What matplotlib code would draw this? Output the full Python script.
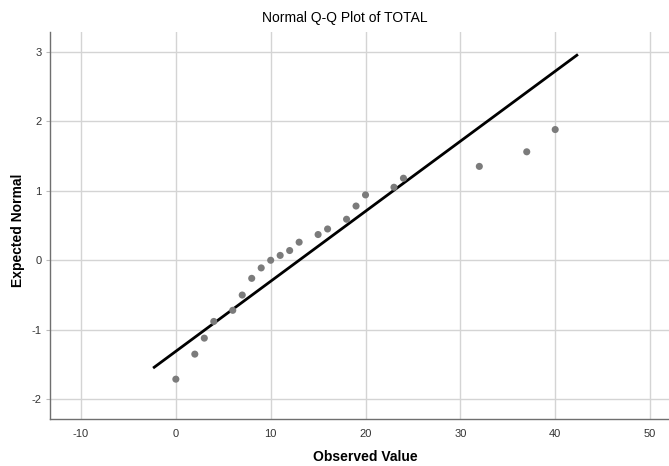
import matplotlib
matplotlib.use("Agg")
import matplotlib.pyplot as plt
from matplotlib import font_manager

observed = [0, 2, 3, 4, 6, 7, 8, 9, 10, 11, 12, 13, 15, 16, 18, 19, 20, 23, 24, 32, 37, 40]
expected = [-1.71, -1.35, -1.12, -0.88, -0.72, -0.50, -0.26, -0.11, 0.00, 0.07, 0.14, 0.26,
            0.37, 0.45, 0.59, 0.78, 0.94, 1.05, 1.18, 1.35, 1.56, 1.88]
line_x = [-2.4, 42.4]
line_mean = 13.0
line_sd = 9.93
xticks = [-10, 0, 10, 20, 30, 40, 50]
yticks = [-2, -1, 0, 1, 2, 3]

plt.rcParams['font.family'] = ["Liberation Sans", "DejaVu Sans"]
plt.rcParams['axes.unicode_minus'] = False

fig = plt.figure(figsize=(6.69, 4.66), dpi=100)
ax = fig.add_axes([50/669, (466-419)/466, 1 - 50/669, (419-32)/466])
ax.set_xlim(-13.27, 52.0)
ax.set_ylim(-2.283, 3.283)
ax.set_xticks(xticks)
ax.set_yticks(yticks)
ax.grid(True, color="#d4d4d4", linewidth=1.0)
ax.set_axisbelow(True)
for s in ["top", "right"]:
    ax.spines[s].set_visible(False)
for s in ["left", "bottom"]:
    ax.spines[s].set_color("#6f6f6f")
    ax.spines[s].set_linewidth(1.0)
ax.tick_params(axis="x", length=0, pad=7, labelsize=8, labelcolor="#333333")
ax.tick_params(axis="y", length=3, color="#bbbbbb", pad=3, labelsize=8, labelcolor="#333333")

ly = [(x - line_mean) / line_sd for x in line_x]
ax.plot(line_x, ly, color="black", linewidth=2.0, solid_capstyle="butt", zorder=2)
ax.scatter(observed, expected, s=26, color="#7b7b7b", edgecolors="none", zorder=3)

fig.text(345/669, 1 - 18/466, "Normal Q-Q Plot of TOTAL", ha="center", va="center", fontsize=10)
fig.text(365/669, 1 - 457/466, "Observed Value", ha="center", va="center", fontsize=10, fontweight="bold")
fig.text(18/669, 1 - 230/466, "Expected Normal", ha="center", va="center", rotation=90, fontsize=10, fontweight="bold")

fig.savefig("out.png", dpi=100)
